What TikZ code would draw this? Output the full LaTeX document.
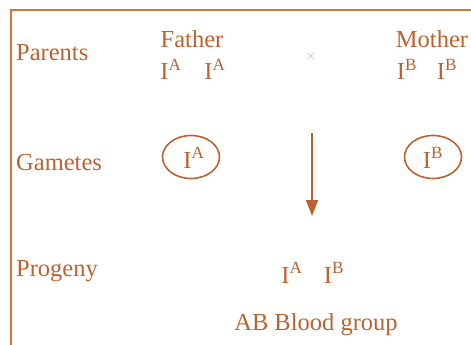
\documentclass[tikz,border=0pt]{standalone}
\usepackage{fontspec}
\setmainfont{Liberation Serif}
\usepackage{tikz}
\usetikzlibrary{arrows.meta,shapes.geometric}
\definecolor{inkbrown}{RGB}{188,98,48}
\definecolor{frameorange}{RGB}{214,120,62}
\definecolor{faintcross}{RGB}{236,190,165}

\begin{document}
\begin{tikzpicture}[
  x=1pt, y=-1pt,
  font=\fontsize{24.5}{29}\selectfont,
  txt/.style={text=inkbrown, inner sep=0pt, anchor=base},
  rowlabel/.style={txt, anchor=base west},
  gamete/.style={draw=inkbrown, line width=1.6pt, ellipse, minimum width=57pt, minimum height=43pt, inner sep=0pt},
  cross/.style={-{Triangle[length=16pt,width=12pt]}, draw=inkbrown, fill=inkbrown, line width=1.6pt}
]
\useasboundingbox (0,0) rectangle (471,345);
% frame (cut off at right and bottom)
\draw[frameorange, line width=2.4pt] (11,345) -- (11,10) -- (471,10);

% row labels
\node[rowlabel] (parents) at (16,61) {Parents};
\node[rowlabel] (gametes) at (16,170) {Gametes};
\node[rowlabel] (progeny) at (16,276) {Progeny};

% parents
\node[txt] (father) at (192,48) {Father};
\node[txt] (fa1) at (171,80) {I\textsuperscript{A}};
\node[txt] (fa2) at (215,80) {I\textsuperscript{A}};
\node[txt] (mother) at (432,48) {Mother};
\node[txt] (mb1) at (407,80) {I\textsuperscript{B}};
\node[txt] (mb2) at (447,80) {I\textsuperscript{B}};
\node[text=faintcross, inner sep=0pt, font=\fontsize{18}{20}\selectfont] (times) at (311,58) {×};

% gametes
\node[gamete] (gamA) at (191,157) {};
\node[txt] (gA) at (194,168) {I\textsuperscript{A}};
\node[gamete] (gamB) at (433,157) {};
\node[txt] (gB) at (433,168) {I\textsuperscript{B}};

% progeny
\coordinate (arrtop) at (312,133);
\coordinate (arrbot) at (312,216);
\draw[cross] (arrtop) -- (arrbot);
\node[txt] (pa) at (292,283) {I\textsuperscript{A}};
\node[txt] (pb) at (334,283) {I\textsuperscript{B}};
\node[txt] (group) at (316,330) {AB Blood group};
\end{tikzpicture}
\end{document}
